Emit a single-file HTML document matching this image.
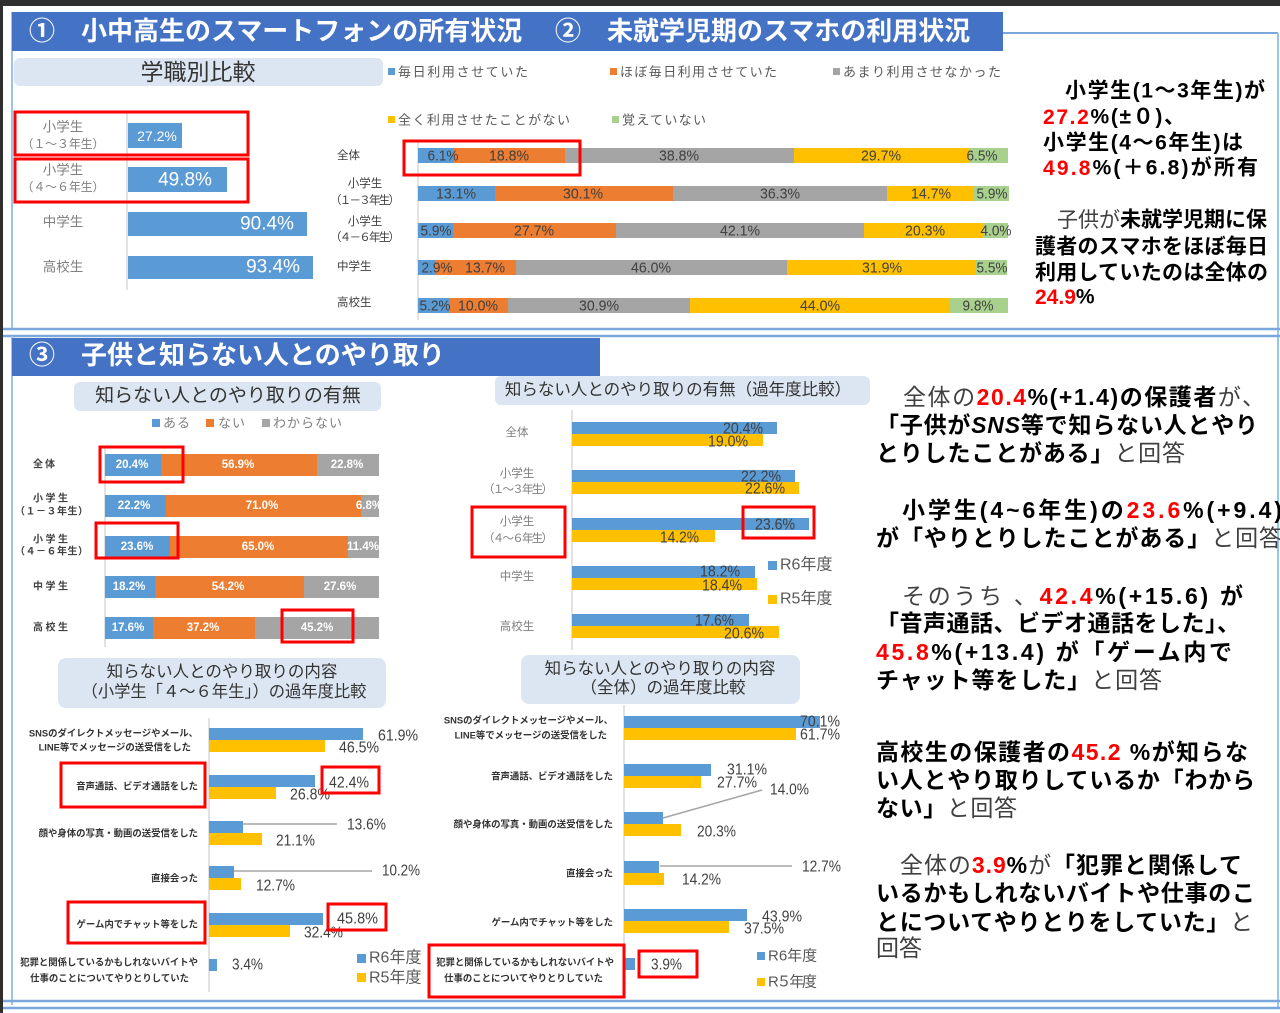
<!DOCTYPE html>
<html><head><meta charset="utf-8">
<style>
html,body{margin:0;padding:0;background:#fff;}
svg{display:block;}
text{font-family:'Liberation Sans','Noto Sans CJK JP',sans-serif;}
.v{font-size:15px;fill:#404040;text-anchor:middle;dominant-baseline:central;}
.w{font-size:11.5px;font-weight:bold;fill:#fff;text-anchor:middle;dominant-baseline:central;}
.n{font-size:16px;fill:#404040;dominant-baseline:central;}
.cat{font-size:9.4px;font-weight:bold;fill:#333;text-anchor:end;dominant-baseline:central;}
.box{fill:none;stroke:#ff0000;stroke-width:3;}
.t{font-size:23px;font-weight:bold;fill:#000;dominant-baseline:central;}
.r{fill:#ff0000;}
.nm{font-weight:normal;fill:#404040;}
.lg{font-size:13px;fill:#595959;dominant-baseline:central;}
</style></head><body>
<svg width="1280" height="1013" viewBox="0 0 1280 1013" xmlns="http://www.w3.org/2000/svg">
<rect x="0" y="0" width="1280" height="1013" fill="#fff"/>
<rect x="0" y="0" width="1280" height="6" fill="#2f2f2f"/>
<rect x="0" y="0" width="3" height="1013" fill="#2f2f2f"/>

<!-- Section 1 frame -->
<line x1="12" y1="12" x2="12" y2="330" stroke="#9dc3e6" stroke-width="2"/>
<line x1="1003" y1="33" x2="1278" y2="33" stroke="#7aa7dc" stroke-width="2"/>
<line x1="1278" y1="33" x2="1278" y2="1008" stroke="#9dc3e6" stroke-width="2"/>
<line x1="3" y1="329" x2="1280" y2="329" stroke="#7aa7dc" stroke-width="2.5"/>
<line x1="3" y1="336" x2="1280" y2="336" stroke="#7aa7dc" stroke-width="2.5"/>
<rect x="12" y="12" width="991" height="39" fill="#4472c4"/>
<text x="29" y="31" font-size="26" font-weight="bold" fill="#fff" dominant-baseline="central">①　小中高生のスマートフォンの所有状況</text>
<text x="555" y="31" font-size="26" font-weight="bold" fill="#fff" dominant-baseline="central">②　未就学児期のスマホの利用状況</text>

<!-- Section 3 frame -->
<line x1="12" y1="336" x2="12" y2="1005" stroke="#9dc3e6" stroke-width="2"/>
<line x1="3" y1="1001" x2="1280" y2="1001" stroke="#7aa7dc" stroke-width="2.5"/>
<line x1="3" y1="1008" x2="1280" y2="1008" stroke="#7aa7dc" stroke-width="2.5"/>
<rect x="12" y="338" width="588" height="38" fill="#4472c4"/>
<text x="29" y="355" font-size="26" font-weight="bold" fill="#fff" dominant-baseline="central">③　子供と知らない人とのやり取り</text>

<!-- Part 1 left chart -->
<rect x="14" y="58" width="369" height="28" rx="6" fill="#dce6f2"/>
<text x="198" y="72" font-size="23" fill="#333" text-anchor="middle" dominant-baseline="central">学職別比較</text>
<line x1="127" y1="112" x2="127" y2="290" stroke="#d9d9d9" stroke-width="1.5"/>
<rect x="128" y="123" width="54" height="25" fill="#5b9bd5"/>
<rect x="128" y="167" width="99" height="25" fill="#5b9bd5"/>
<rect x="128" y="212" width="179" height="24" fill="#5b9bd5"/>
<rect x="128" y="256" width="185" height="23" fill="#5b9bd5"/>
<text x="157" y="136" font-size="14" fill="#fff" text-anchor="middle" dominant-baseline="central">27.2%</text>
<text x="185" y="180" font-size="19" fill="#fff" text-anchor="middle" dominant-baseline="central">49.8%</text>
<text x="267" y="224" font-size="19" fill="#fff" text-anchor="middle" dominant-baseline="central">90.4%</text>
<text x="273" y="267" font-size="19" fill="#fff" text-anchor="middle" dominant-baseline="central">93.4%</text>
<g font-size="13.5" fill="#7f7f7f" text-anchor="middle" dominant-baseline="central">
<text x="63" y="127">小学生</text>
<text x="63" y="144" font-size="12" textLength="83">（１～３年生）</text>
<text x="63" y="170">小学生</text>
<text x="63" y="187" font-size="12" textLength="83">（４～６年生）</text>
<text x="63" y="222">中学生</text>
<text x="63" y="267">高校生</text>
</g>
<rect class="box" x="15" y="112" width="233" height="43" stroke-width="3.5"/>
<rect class="box" x="15" y="159" width="233" height="43" stroke-width="3.5"/>

<!-- Part 2 stacked chart -->
<rect x="388" y="68" width="7" height="7" fill="#5b9bd5"/>
<text class="lg" x="398" y="72" textLength="130">毎日利用させていた</text>
<rect x="610" y="68" width="7" height="7" fill="#ed7d31"/>
<text class="lg" x="620" y="72" textLength="157">ほぼ毎日利用させていた</text>
<rect x="833" y="68" width="7" height="7" fill="#a5a5a5"/>
<text class="lg" x="843" y="72" textLength="158">あまり利用させなかった</text>
<rect x="388" y="116" width="7" height="7" fill="#ffc000"/>
<text class="lg" x="398" y="120" textLength="172">全く利用させたことがない</text>
<rect x="612" y="116" width="7" height="7" fill="#a9d18e"/>
<text class="lg" x="622" y="120" textLength="84">覚えていない</text>

<line x1="418" y1="140" x2="418" y2="320" stroke="#d9d9d9" stroke-width="1.5"/>
<g>
<rect x="418" y="148" width="36" height="15" fill="#5b9bd5"/>
<rect x="454" y="148" width="111" height="15" fill="#ed7d31"/>
<rect x="565" y="148" width="229" height="15" fill="#a5a5a5"/>
<rect x="794" y="148" width="175" height="15" fill="#ffc000"/>
<rect x="969" y="148" width="39" height="15" fill="#a9d18e"/>

<rect x="418" y="186" width="77" height="15" fill="#5b9bd5"/>
<rect x="495" y="186" width="178" height="15" fill="#ed7d31"/>
<rect x="673" y="186" width="214" height="15" fill="#a5a5a5"/>
<rect x="887" y="186" width="87" height="15" fill="#ffc000"/>
<rect x="974" y="186" width="35" height="15" fill="#a9d18e"/>

<rect x="418" y="223" width="35" height="15" fill="#5b9bd5"/>
<rect x="453" y="223" width="163" height="15" fill="#ed7d31"/>
<rect x="616" y="223" width="248" height="15" fill="#a5a5a5"/>
<rect x="864" y="223" width="120" height="15" fill="#ffc000"/>
<rect x="984" y="223" width="24" height="15" fill="#a9d18e"/>

<rect x="418" y="260" width="17" height="15" fill="#5b9bd5"/>
<rect x="435" y="260" width="81" height="15" fill="#ed7d31"/>
<rect x="516" y="260" width="271" height="15" fill="#a5a5a5"/>
<rect x="787" y="260" width="188" height="15" fill="#ffc000"/>
<rect x="975" y="260" width="32" height="15" fill="#a9d18e"/>

<rect x="418" y="298" width="31" height="15" fill="#5b9bd5"/>
<rect x="449" y="298" width="59" height="15" fill="#ed7d31"/>
<rect x="508" y="298" width="182" height="15" fill="#a5a5a5"/>
<rect x="690" y="298" width="260" height="15" fill="#ffc000"/>
<rect x="950" y="298" width="58" height="15" fill="#a9d18e"/>
</g>
<g>
<text class="v" x="443" y="156" textLength="31" lengthAdjust="spacingAndGlyphs">6.1%</text>
<text class="v" x="509" y="156" textLength="40" lengthAdjust="spacingAndGlyphs">18.8%</text>
<text class="v" x="679" y="156" textLength="40" lengthAdjust="spacingAndGlyphs">38.8%</text>
<text class="v" x="881" y="156" textLength="40" lengthAdjust="spacingAndGlyphs">29.7%</text>
<text class="v" x="982" y="156" textLength="31" lengthAdjust="spacingAndGlyphs">6.5%</text>

<text class="v" x="456" y="194" textLength="40" lengthAdjust="spacingAndGlyphs">13.1%</text>
<text class="v" x="583" y="194" textLength="40" lengthAdjust="spacingAndGlyphs">30.1%</text>
<text class="v" x="780" y="194" textLength="40" lengthAdjust="spacingAndGlyphs">36.3%</text>
<text class="v" x="931" y="194" textLength="40" lengthAdjust="spacingAndGlyphs">14.7%</text>
<text class="v" x="992" y="194" textLength="31" lengthAdjust="spacingAndGlyphs">5.9%</text>

<text class="v" x="436" y="231" textLength="31" lengthAdjust="spacingAndGlyphs">5.9%</text>
<text class="v" x="534" y="231" textLength="40" lengthAdjust="spacingAndGlyphs">27.7%</text>
<text class="v" x="740" y="231" textLength="40" lengthAdjust="spacingAndGlyphs">42.1%</text>
<text class="v" x="925" y="231" textLength="40" lengthAdjust="spacingAndGlyphs">20.3%</text>
<text class="v" x="996" y="231" textLength="31" lengthAdjust="spacingAndGlyphs">4.0%</text>

<text class="v" x="437" y="268" textLength="31" lengthAdjust="spacingAndGlyphs">2.9%</text>
<text class="v" x="485" y="268" textLength="40" lengthAdjust="spacingAndGlyphs">13.7%</text>
<text class="v" x="651" y="268" textLength="40" lengthAdjust="spacingAndGlyphs">46.0%</text>
<text class="v" x="882" y="268" textLength="40" lengthAdjust="spacingAndGlyphs">31.9%</text>
<text class="v" x="992" y="268" textLength="31" lengthAdjust="spacingAndGlyphs">5.5%</text>

<text class="v" x="435" y="306" textLength="31" lengthAdjust="spacingAndGlyphs">5.2%</text>
<text class="v" x="478" y="306" textLength="40" lengthAdjust="spacingAndGlyphs">10.0%</text>
<text class="v" x="599" y="306" textLength="40" lengthAdjust="spacingAndGlyphs">30.9%</text>
<text class="v" x="820" y="306" textLength="40" lengthAdjust="spacingAndGlyphs">44.0%</text>
<text class="v" x="978" y="306" textLength="31" lengthAdjust="spacingAndGlyphs">9.8%</text>
</g>
<g font-size="11.5" fill="#404040" dominant-baseline="central">
<text x="337" y="156">全体</text>
<text x="365" y="184" text-anchor="middle">小学生</text>
<text x="365" y="201" text-anchor="middle" textLength="70">（１－３年生）</text>
<text x="365" y="222" text-anchor="middle">小学生</text>
<text x="365" y="238" text-anchor="middle" textLength="70">（４－６年生）</text>
<text x="337" y="267">中学生</text>
<text x="337" y="303">高校生</text>
</g>
<rect class="box" x="404" y="141" width="176" height="34"/>

<!-- Top right text -->
<g font-size="21" font-weight="bold" fill="#000" dominant-baseline="central">
<text x="1065" y="91" textLength="200">小学生(1～3年生)が</text>
<text x="1043" y="117" textLength="142"><tspan class="r">27.2</tspan>%(±０)、</text>
<text x="1043" y="143" textLength="200">小学生(4～6年生)は</text>
<text x="1043" y="168" textLength="215"><tspan class="r">49.8</tspan>%(＋6.8)が所有</text>
<text x="1057" y="220"><tspan class="nm">子供が</tspan>未就学児期に保</text>
<text x="1035" y="247" textLength="233">護者のスマホをほぼ毎日</text>
<text x="1035" y="273" textLength="233">利用していたのは全体の</text>
<text x="1035" y="297"><tspan class="r">24.9</tspan>%</text>
</g>

<!-- Chart A -->
<rect x="74" y="382" width="307" height="29" rx="6" fill="#dce6f2"/>
<text x="228" y="396" font-size="19" fill="#333" text-anchor="middle" dominant-baseline="central">知らない人とのやり取りの有無</text>
<rect x="152" y="419" width="8" height="8" fill="#5b9bd5"/>
<text x="163" y="423" font-size="13" fill="#7f7f7f" dominant-baseline="central" textLength="27">ある</text>
<rect x="206" y="419" width="8" height="8" fill="#ed7d31"/>
<text x="218" y="423" font-size="13" fill="#7f7f7f" dominant-baseline="central" textLength="27">ない</text>
<rect x="262" y="419" width="8" height="8" fill="#a5a5a5"/>
<text x="273" y="423" font-size="13" fill="#7f7f7f" dominant-baseline="central" textLength="69">わからない</text>
<line x1="105" y1="448" x2="105" y2="647" stroke="#d9d9d9" stroke-width="1.5"/>
<g>
<rect x="105" y="454" width="56" height="22" fill="#5b9bd5"/>
<rect x="161" y="454" width="156" height="22" fill="#ed7d31"/>
<rect x="317" y="454" width="62" height="22" fill="#a5a5a5"/>
<rect x="105" y="495" width="61" height="22" fill="#5b9bd5"/>
<rect x="166" y="495" width="195" height="22" fill="#ed7d31"/>
<rect x="361" y="495" width="18" height="22" fill="#a5a5a5"/>
<rect x="105" y="536" width="65" height="22" fill="#5b9bd5"/>
<rect x="170" y="536" width="178" height="22" fill="#ed7d31"/>
<rect x="348" y="536" width="31" height="22" fill="#a5a5a5"/>
<rect x="105" y="576" width="50" height="22" fill="#5b9bd5"/>
<rect x="155" y="576" width="149" height="22" fill="#ed7d31"/>
<rect x="304" y="576" width="75" height="22" fill="#a5a5a5"/>
<rect x="105" y="617" width="48" height="22" fill="#5b9bd5"/>
<rect x="153" y="617" width="102" height="22" fill="#ed7d31"/>
<rect x="255" y="617" width="124" height="22" fill="#a5a5a5"/>
</g>
<g>
<text class="w" x="132" y="465">20.4%</text>
<text class="w" x="238" y="465">56.9%</text>
<text class="w" x="347" y="465">22.8%</text>
<text class="w" x="134" y="506">22.2%</text>
<text class="w" x="262" y="506">71.0%</text>
<text class="w" x="369" y="506">6.8%</text>
<text class="w" x="137" y="547">23.6%</text>
<text class="w" x="258" y="547">65.0%</text>
<text class="w" x="363" y="547">11.4%</text>
<text class="w" x="129" y="587">18.2%</text>
<text class="w" x="228" y="587">54.2%</text>
<text class="w" x="340" y="587">27.6%</text>
<text class="w" x="128" y="628">17.6%</text>
<text class="w" x="203" y="628">37.2%</text>
<text class="w" x="317" y="628">45.2%</text>
</g>
<g font-size="10" font-weight="bold" fill="#404040" dominant-baseline="central">
<text x="33" y="465" textLength="22">全体</text>
<text x="33" y="499" textLength="35">小学生</text>
<text x="15" y="512" textLength="73">（１－３年生）</text>
<text x="33" y="540" textLength="35">小学生</text>
<text x="15" y="552" textLength="73">（４－６年生）</text>
<text x="33" y="587" textLength="35">中学生</text>
<text x="33" y="628" textLength="35">高校生</text>
</g>
<rect class="box" x="100" y="447" width="83" height="35"/>
<rect class="box" x="96" y="523" width="82" height="35"/>
<rect class="box" x="282" y="610" width="71" height="32"/>

<!-- Chart B -->
<rect x="495" y="376" width="375" height="29" rx="6" fill="#dce6f2"/>
<text x="678" y="390" font-size="16.5" fill="#333" text-anchor="middle" dominant-baseline="central">知らない人とのやり取りの有無（過年度比較）</text>
<line x1="572" y1="410" x2="572" y2="650" stroke="#d9d9d9" stroke-width="1.5"/>
<g>
<rect x="572" y="422" width="205" height="12" fill="#5b9bd5"/>
<rect x="572" y="434" width="191" height="12" fill="#ffc000"/>
<rect x="572" y="470" width="223" height="12" fill="#5b9bd5"/>
<rect x="572" y="482" width="227" height="12" fill="#ffc000"/>
<rect x="572" y="518" width="237" height="12" fill="#5b9bd5"/>
<rect x="572" y="530" width="143" height="12" fill="#ffc000"/>
<rect x="572" y="566" width="183" height="12" fill="#5b9bd5"/>
<rect x="572" y="578" width="185" height="12" fill="#ffc000"/>
<rect x="572" y="614" width="177" height="12" fill="#5b9bd5"/>
<rect x="572" y="626" width="207" height="12" fill="#ffc000"/>
</g>
<g>
<text class="n" text-anchor="end" x="763" y="429" textLength="40" lengthAdjust="spacingAndGlyphs">20.4%</text>
<text class="n" text-anchor="end" x="748" y="442" textLength="40" lengthAdjust="spacingAndGlyphs">19.0%</text>
<text class="n" text-anchor="end" x="781" y="477" textLength="40" lengthAdjust="spacingAndGlyphs">22.2%</text>
<text class="n" text-anchor="end" x="785" y="489" textLength="40" lengthAdjust="spacingAndGlyphs">22.6%</text>
<text class="n" text-anchor="end" x="795" y="525" textLength="40" lengthAdjust="spacingAndGlyphs">23.6%</text>
<text class="n" text-anchor="end" x="699" y="538" textLength="39" lengthAdjust="spacingAndGlyphs">14.2%</text>
<text class="n" text-anchor="end" x="740" y="572" textLength="40" lengthAdjust="spacingAndGlyphs">18.2%</text>
<text class="n" text-anchor="end" x="742" y="586" textLength="40" lengthAdjust="spacingAndGlyphs">18.4%</text>
<text class="n" text-anchor="end" x="734" y="621" textLength="39" lengthAdjust="spacingAndGlyphs">17.6%</text>
<text class="n" text-anchor="end" x="764" y="634" textLength="40" lengthAdjust="spacingAndGlyphs">20.6%</text>
</g>
<g font-size="11.5" fill="#7f7f7f" text-anchor="middle" dominant-baseline="central">
<text x="517" y="433">全体</text>
<text x="517" y="474">小学生</text>
<text x="518" y="490" textLength="70">（１～３年生）</text>
<text x="517" y="522">小学生</text>
<text x="518" y="539" textLength="70">（４～６年生）</text>
<text x="517" y="577">中学生</text>
<text x="517" y="627">高校生</text>
</g>
<rect x="768" y="561" width="9" height="9" fill="#5b9bd5"/>
<text x="780" y="565" font-size="16" fill="#595959" dominant-baseline="central">R6年度</text>
<rect x="768" y="595" width="9" height="9" fill="#ffc000"/>
<text x="780" y="599" font-size="16" fill="#595959" dominant-baseline="central">R5年度</text>
<rect class="box" x="472" y="507" width="93" height="50"/>
<rect class="box" x="743" y="507" width="71" height="31"/>

<!-- Chart C -->
<rect x="58" y="658" width="328" height="50" rx="8" fill="#dce6f2"/>
<text x="222" y="672" font-size="16.5" fill="#333" text-anchor="middle" dominant-baseline="central">知らない人とのやり取りの内容</text>
<text x="224" y="692" font-size="16.3" fill="#333" text-anchor="middle" dominant-baseline="central">（小学生「４～６年生」）の過年度比較</text>
<line x1="209" y1="718" x2="209" y2="992" stroke="#d9d9d9" stroke-width="1.5"/>
<g>
<rect x="209" y="728" width="154" height="12" fill="#5b9bd5"/>
<rect x="209" y="740" width="116" height="12" fill="#ffc000"/>
<rect x="209" y="775" width="106" height="12" fill="#5b9bd5"/>
<rect x="209" y="787" width="67" height="12" fill="#ffc000"/>
<rect x="209" y="821" width="34" height="12" fill="#5b9bd5"/>
<rect x="209" y="833" width="53" height="12" fill="#ffc000"/>
<rect x="209" y="866" width="25" height="12" fill="#5b9bd5"/>
<rect x="209" y="878" width="32" height="12" fill="#ffc000"/>
<rect x="209" y="913" width="114" height="12" fill="#5b9bd5"/>
<rect x="209" y="925" width="81" height="12" fill="#ffc000"/>
<rect x="209" y="959" width="8" height="12" fill="#5b9bd5"/>
</g>
<line x1="243" y1="824" x2="337" y2="824" stroke="#a6a6a6" stroke-width="1.5"/>
<line x1="234" y1="871" x2="372" y2="871" stroke="#a6a6a6" stroke-width="1.5"/>
<g>
<text class="n" x="378" y="736" textLength="40" lengthAdjust="spacingAndGlyphs">61.9%</text>
<text class="n" x="339" y="748" textLength="40" lengthAdjust="spacingAndGlyphs">46.5%</text>
<text class="n" x="329" y="783" textLength="40" lengthAdjust="spacingAndGlyphs">42.4%</text>
<text class="n" x="290" y="795" textLength="40" lengthAdjust="spacingAndGlyphs">26.8%</text>
<text class="n" x="347" y="825" textLength="39" lengthAdjust="spacingAndGlyphs">13.6%</text>
<text class="n" x="276" y="841" textLength="39" lengthAdjust="spacingAndGlyphs">21.1%</text>
<text class="n" x="382" y="871" textLength="38" lengthAdjust="spacingAndGlyphs">10.2%</text>
<text class="n" x="256" y="886" textLength="39" lengthAdjust="spacingAndGlyphs">12.7%</text>
<text class="n" x="337" y="919" textLength="41" lengthAdjust="spacingAndGlyphs">45.8%</text>
<text class="n" x="304" y="933" textLength="39" lengthAdjust="spacingAndGlyphs">32.4%</text>
<text class="n" x="232" y="965" textLength="31" lengthAdjust="spacingAndGlyphs">3.4%</text>
</g>
<g>
<text class="cat" x="198" y="733">SNSのダイレクトメッセージやメール、</text>
<text class="cat" x="191" y="747">LINE等でメッセージの送受信をした</text>
<text class="cat" x="198" y="786">音声通話、ビデオ通話をした</text>
<text class="cat" x="198" y="833">顔や身体の写真・動画の送受信をした</text>
<text class="cat" x="198" y="878">直接会った</text>
<text class="cat" x="198" y="924">ゲーム内でチャット等をした</text>
<text class="cat" x="198" y="962">犯罪と関係しているかもしれないバイトや</text>
<text class="cat" x="189" y="978">仕事のことについてやりとりしていた</text>
</g>
<rect x="357" y="954" width="9" height="9" fill="#5b9bd5"/>
<text x="369" y="958" font-size="16" fill="#595959" dominant-baseline="central">R6年度</text>
<rect x="357" y="973" width="9" height="9" fill="#ffc000"/>
<text x="369" y="978" font-size="16" fill="#595959" dominant-baseline="central">R5年度</text>
<rect class="box" x="61" y="763" width="144" height="44"/>
<rect class="box" x="68" y="902" width="137" height="41"/>
<rect class="box" x="322" y="767" width="57" height="26"/>
<rect class="box" x="328" y="904" width="58" height="26"/>

<!-- Chart D -->
<rect x="521" y="655" width="279" height="49" rx="8" fill="#dce6f2"/>
<text x="660" y="669" font-size="16.5" fill="#333" text-anchor="middle" dominant-baseline="central">知らない人とのやり取りの内容</text>
<text x="663" y="688" font-size="16.5" fill="#333" text-anchor="middle" dominant-baseline="central">（全体）の過年度比較</text>
<line x1="624" y1="705" x2="624" y2="997" stroke="#d9d9d9" stroke-width="1.5"/>
<g>
<rect x="624" y="716" width="196" height="12" fill="#5b9bd5"/>
<rect x="624" y="728" width="172" height="12" fill="#ffc000"/>
<rect x="624" y="764" width="87" height="12" fill="#5b9bd5"/>
<rect x="624" y="776" width="77" height="12" fill="#ffc000"/>
<rect x="624" y="812" width="39" height="12" fill="#5b9bd5"/>
<rect x="624" y="824" width="57" height="12" fill="#ffc000"/>
<rect x="624" y="861" width="35" height="12" fill="#5b9bd5"/>
<rect x="624" y="873" width="40" height="12" fill="#ffc000"/>
<rect x="624" y="909" width="123" height="12" fill="#5b9bd5"/>
<rect x="624" y="921" width="105" height="12" fill="#ffc000"/>
<rect x="624" y="958" width="11" height="12" fill="#5b9bd5"/>
</g>
<line x1="663" y1="818" x2="762" y2="790" stroke="#a6a6a6" stroke-width="1.5"/>
<line x1="660" y1="866" x2="792" y2="866" stroke="#a6a6a6" stroke-width="1.5"/>
<g>
<text class="n" x="800" y="722" textLength="40" lengthAdjust="spacingAndGlyphs">70.1%</text>
<text class="n" x="800" y="735" textLength="40" lengthAdjust="spacingAndGlyphs">61.7%</text>
<text class="n" x="727" y="770" textLength="40" lengthAdjust="spacingAndGlyphs">31.1%</text>
<text class="n" x="717" y="783" textLength="40" lengthAdjust="spacingAndGlyphs">27.7%</text>
<text class="n" x="770" y="790" textLength="39" lengthAdjust="spacingAndGlyphs">14.0%</text>
<text class="n" x="697" y="832" textLength="39" lengthAdjust="spacingAndGlyphs">20.3%</text>
<text class="n" x="802" y="867" textLength="39" lengthAdjust="spacingAndGlyphs">12.7%</text>
<text class="n" x="682" y="880" textLength="39" lengthAdjust="spacingAndGlyphs">14.2%</text>
<text class="n" x="762" y="917" textLength="40" lengthAdjust="spacingAndGlyphs">43.9%</text>
<text class="n" x="744" y="929" textLength="40" lengthAdjust="spacingAndGlyphs">37.5%</text>
<text class="n" x="651" y="965" textLength="31" lengthAdjust="spacingAndGlyphs">3.9%</text>
</g>
<g>
<text class="cat" x="613" y="720">SNSのダイレクトメッセージやメール、</text>
<text class="cat" x="607" y="735">LINE等でメッセージの送受信をした</text>
<text class="cat" x="613" y="776">音声通話、ビデオ通話をした</text>
<text class="cat" x="613" y="824">顔や身体の写真・動画の送受信をした</text>
<text class="cat" x="613" y="873">直接会った</text>
<text class="cat" x="613" y="922">ゲーム内でチャット等をした</text>
<text class="cat" x="614" y="962">犯罪と関係しているかもしれないバイトや</text>
<text class="cat" x="603" y="978">仕事のことについてやりとりしていた</text>
</g>
<rect x="757" y="952" width="8" height="8" fill="#5b9bd5"/>
<text x="768" y="956" font-size="15" fill="#595959" dominant-baseline="central">R6年度</text>
<rect x="757" y="978" width="8" height="8" fill="#ffc000"/>
<text x="768" y="982" font-size="15" fill="#595959" dominant-baseline="central" textLength="49">R５年度</text>
<rect class="box" x="429" y="945" width="195" height="52"/>
<rect class="box" x="639" y="951" width="58" height="26"/>

<!-- Section 3 right text -->
<g>
<text class="t" x="903" y="397" textLength="362"><tspan class="nm">全体の</tspan><tspan class="r">20.4</tspan>%(+1.4)の保護者<tspan class="nm">が、</tspan></text>
<text class="t" x="876" y="425" textLength="382">「子供が<tspan font-style="italic">SNS</tspan>等で知らない人とやり</text>
<text class="t" x="876" y="453" textLength="309">とりしたことがある」<tspan class="nm">と回答</tspan></text>

<text class="t" x="902" y="510" textLength="380">小学生(4~6年生)の<tspan class="r">23.6</tspan>%(+9.4)</text>
<text class="t" x="876" y="538" textLength="406">が「やりとりしたことがある」<tspan class="nm">と回答</tspan></text>

<text class="t" x="902" y="596" textLength="341"><tspan class="nm">そのうち 、</tspan><tspan class="r">42.4</tspan>%(+15.6) が</text>
<text class="t" x="876" y="623" textLength="364">「音声通話、ビデオ通話をした」、</text>
<text class="t" x="876" y="652" textLength="356"><tspan class="r">45.8</tspan>%(+13.4) が「ゲーム内で</text>
<text class="t" x="876" y="680" textLength="286">チャット等をした」<tspan class="nm">と回答</tspan></text>

<text class="t" x="876" y="752" textLength="372">高校生の保護者の<tspan class="r">45.2</tspan> %が知らな</text>
<text class="t" x="876" y="780" textLength="379">い人とやり取りしているか「わから</text>
<text class="t" x="876" y="808" textLength="141">ない」<tspan class="nm">と回答</tspan></text>

<text class="t" x="900" y="865" textLength="342"><tspan class="nm">全体の</tspan><tspan class="r">3.9</tspan>%<tspan class="nm">が</tspan>「犯罪と関係して</text>
<text class="t" x="876" y="893" textLength="379">いるかもしれないバイトや仕事のこ</text>
<text class="t" x="876" y="922" textLength="377">とについてやりとりをしていた」<tspan class="nm">と</tspan></text>
<text class="t" x="876" y="948"><tspan class="nm">回答</tspan></text>
</g>
</svg>
</body></html>
